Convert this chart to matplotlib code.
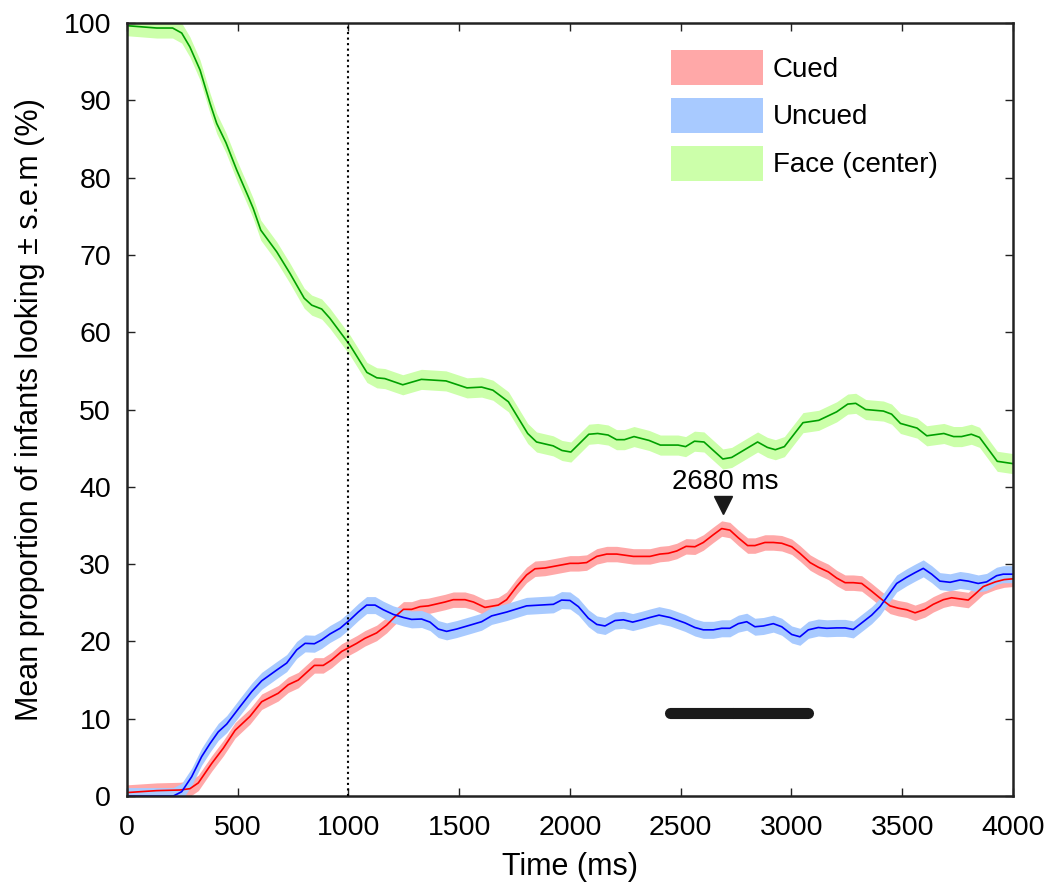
import numpy as np
import matplotlib
matplotlib.use("Agg")
import matplotlib.pyplot as plt
from matplotlib.patches import Patch

plt.rcParams['font.family'] = ['Liberation Sans', 'DejaVu Sans']

# -----------------------------
# DADOS
# -----------------------------

# Cued (vermelho)
t_cued = [0, 134, 239, 284, 322, 382, 435, 488, 555, 608, 683, 728, 773, 846, 886,
          924, 969, 1037, 1074, 1127, 1172, 1210, 1248, 1285, 1323, 1360, 1436, 1473,
          1526, 1564, 1616, 1676, 1714, 1759, 1804, 1842, 1887, 1925, 2000, 2038, 2075,
          2121, 2166, 2211, 2286, 2361, 2406, 2444, 2482, 2524, 2564, 2602, 2647, 2685,
          2722, 2760, 2802, 2835, 2880, 2918, 2956, 3001, 3038, 3084, 3121, 3166, 3204,
          3242, 3279, 3317, 3362, 3400, 3445, 3482, 3520, 3558, 3603, 3640, 3686, 3723,
          3761, 3798, 3828, 3866, 3920, 3960, 4000]
p_cued = [0.45, 0.7, 0.78, 0.95, 1.7, 4.2, 6.2, 8.5, 10.3, 12.2, 13.3, 14.4, 15.0, 16.9, 16.9,
          17.6, 18.7, 19.75, 20.4, 21.1, 22.1, 23.2, 24.15, 24.15, 24.5, 24.6, 25.1, 25.4,
          25.4, 25.1, 24.4, 24.7, 25.4, 27.1, 28.6, 29.4, 29.5, 29.7, 30.1, 30.1, 30.2,
          31.0, 31.3, 31.3, 31.0, 31.0, 31.3, 31.4, 31.7, 32.3, 32.25, 32.8, 33.8, 34.6,
          34.4, 33.4, 32.4, 32.4, 32.8, 32.8, 32.7, 32.25, 31.4, 30.2, 29.6, 29.0, 28.2,
          27.6, 27.6, 27.5, 26.5, 25.6, 24.6, 24.3, 24.1, 23.7, 24.15, 24.8, 25.4, 25.65,
          25.5, 25.35, 26.1, 27.1, 27.7, 28.0, 28.1]

# Uncued (azul)
t_uncued = [0, 209, 247, 292, 337, 375, 412, 450, 510, 563, 608, 676, 721, 766, 804,
            846, 879, 916, 962, 1007, 1044, 1082, 1120, 1157, 1202, 1248, 1285, 1330, 1368,
            1405, 1443, 1488, 1548, 1601, 1646, 1714, 1759, 1804, 1864, 1925, 1962, 2000,
            2038, 2083, 2121, 2158, 2203, 2241, 2283, 2324, 2361, 2402, 2451, 2519, 2564,
            2602, 2647, 2685, 2722, 2760, 2798, 2835, 2873, 2918, 2956, 3001, 3038, 3076,
            3121, 3159, 3204, 3242, 3279, 3324, 3362, 3400, 3437, 3475, 3520, 3558, 3595,
            3633, 3670, 3716, 3761, 3798, 3843, 3881, 3926, 3956, 4000]
p_uncued = [0, 0, 0.56, 2.5, 5.1, 6.8, 8.3, 9.3, 11.55, 13.5, 14.9, 16.3, 17.2, 18.9, 19.75,
            19.7, 20.2, 20.96, 21.7, 22.8, 23.8, 24.7, 24.7, 24.1, 23.5, 23.1, 22.85, 22.9, 22.5,
            21.6, 21.3, 21.6, 22.1, 22.55, 23.3, 23.8, 24.2, 24.6, 24.7, 24.8, 25.35, 25.3,
            24.5, 23.0, 22.2, 22.0, 22.7, 22.8, 22.5, 22.8, 23.1, 23.4, 23.1, 22.4, 21.8,
            21.5, 21.5, 21.7, 21.7, 22.3, 22.55, 21.9, 22.0, 22.3, 21.9, 20.9, 20.6, 21.5,
            21.8, 21.7, 21.75, 21.75, 21.55, 22.55, 23.4, 24.5, 26.0, 27.5, 28.3, 28.9, 29.45,
            28.7, 27.8, 27.65, 27.95, 27.8, 27.5, 27.7, 28.5, 28.7, 28.7]

# Face (center) (verde)
t_face = [0, 134, 206, 247, 284, 330, 375, 405, 447, 495, 548, 570, 604, 676, 736,
          800, 834, 879, 916, 1007, 1083, 1128, 1164, 1245, 1329, 1440, 1535, 1601, 1652,
          1722, 1809, 1849, 1924, 1964, 2004, 2085, 2125, 2172, 2210, 2246, 2289, 2357,
          2408, 2488, 2522, 2562, 2605, 2690, 2730, 2847, 2891, 2927, 2968, 3052, 3123,
          3204, 3254, 3290, 3335, 3415, 3452, 3492, 3567, 3611, 3688, 3732, 3768, 3812,
          3849, 3929, 4000]
p_face = [99.65, 99.35, 99.35, 98.7, 96.9, 93.9, 89.6, 87.0, 84.5, 81.0, 77.5, 76.0, 73.2, 70.4, 67.6,
          64.4, 63.5, 63.0, 61.8, 58.3, 54.8, 54.1, 54.0, 53.2, 53.9, 53.7, 52.8, 52.9, 52.5,
          51.0, 46.9, 45.8, 45.3, 44.7, 44.5, 46.8, 46.9, 46.7, 46.1, 46.1, 46.5, 46.0,
          45.4, 45.4, 45.2, 45.9, 45.8, 43.6, 43.8, 45.8, 45.1, 44.8, 45.2, 48.3, 48.6,
          49.7, 50.7, 50.8, 50.0, 49.8, 49.4, 48.2, 47.6, 46.6, 46.9, 46.5, 46.5, 46.8,
          46.4, 43.3, 43.0]

# erro padrão (s.e.m) aproximado de cada série
sem_cued = 1.0
sem_uncued = 1.1
sem_face = 1.3

# intervalos significativos (barra preta)
sig_inicio = [2450, 2736]
sig_fim = [2736, 3075]
sig_nivel = 10.7

pico_t = 2680
pico_y = 37.6

# -----------------------------
# GRÁFICO
# -----------------------------

series = [
    (t_cued, p_cued, sem_cued, '#ffa8a8', '#ff0000', 'Cued'),
    (t_uncued, p_uncued, sem_uncued, '#a8caff', '#0000ff', 'Uncued'),
    (t_face, p_face, sem_face, '#ccffaa', '#00a000', 'Face (center)'),
]

fig = plt.figure(figsize=(10.47, 8.84), dpi=100)
ax = fig.add_axes([0.1213, 0.0995, 0.8462, 0.8745])

for t, p, s, cor_banda, cor_linha, nome in series:
    t = np.array(t)
    p = np.array(p)
    ax.fill_between(t, p - s, p + s, color=cor_banda, linewidth=0, zorder=1)

for t, p, s, cor_banda, cor_linha, nome in series:
    ax.plot(t, p, color=cor_linha, linewidth=1.2, zorder=2)

ax.axvline(1000, color='black', linestyle=':', linewidth=1.5, zorder=3)

for a, b in zip(sig_inicio, sig_fim):
    ax.plot([a, b], [sig_nivel, sig_nivel], color='#1a1a1a', linewidth=8,
            solid_capstyle='round', zorder=4)

ax.plot([pico_t + 10], [pico_y], marker='v', markersize=13, color='#1a1a1a',
        linestyle='none', zorder=4)
ax.text(pico_t + 20, pico_y + 1.3, '2680 ms', ha='center', va='bottom', fontsize=20)

ax.set_xlim(0, 4000)
ax.set_ylim(0, 100)
ax.set_xticks(np.arange(0, 4001, 500))
ax.set_yticks(np.arange(0, 101, 10))
ax.tick_params(direction='in', top=True, right=True, length=5.5, width=1,
               labelsize=20.5, color='#222222')
ax.tick_params(axis='x', pad=14)
ax.tick_params(axis='y', pad=11.5)
for sp in ax.spines.values():
    sp.set_linewidth(1.8)
    sp.set_color('#222222')

ax.set_xlabel('Time (ms)', fontsize=22, labelpad=7.5)
ax.set_ylabel('Mean proportion of infants looking ± s.e.m (%)', fontsize=22, labelpad=13)

handles = [Patch(facecolor=c, edgecolor='none', label=n) for _, _, _, c, _, n in series]
ax.legend(handles=handles, loc='upper left', bbox_to_anchor=(0.614, 0.965),
          frameon=False, fontsize=20, borderpad=0, borderaxespad=0,
          handlelength=3.3, handleheight=1.56, labelspacing=0.46, handletextpad=0.36)

fig.savefig('out.png', dpi=100)
